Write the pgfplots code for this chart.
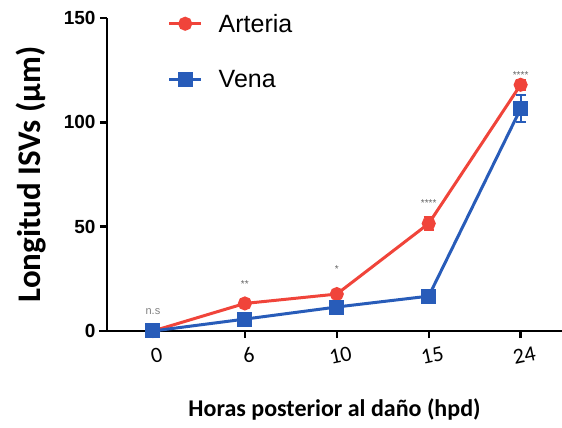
\documentclass[border=0pt]{standalone}
\usepackage{pgfplots}
\pgfplotsset{compat=1.18}
\usepackage{fontspec}
\setmainfont{Liberation Sans}
\newfontfamily\carlito{Carlito}
\definecolor{artred}{RGB}{240,68,58}
\definecolor{venblue}{RGB}{40,92,185}
\begin{document}
\begin{tikzpicture}
\useasboundingbox (0,0) rectangle (562pt,428pt);
\begin{axis}[
  at={(107pt,97pt)}, anchor=south west,
  scale only axis, width=455pt, height=313pt,
  xmin=-0.5, xmax=4.45, ymin=0, ymax=150,
  axis lines=left,
  axis line style={line width=2.6pt, -},
  x axis line style={shorten <=-8pt},
  xtick={0,1,2,3,4}, xticklabels={0,6,10,15,24},
  ytick={0,50,100,150},
  tick style={line width=2.4pt, black},
  tick align=outside, major tick length=7pt,
  /pgf/number format/assume math mode=true,
  yticklabel style={font=\fontsize{19}{21}\selectfont\bfseries, xshift=-1pt},
  xticklabel style={font=\carlito\fontsize{22}{24}\selectfont, rotate=12, anchor=north, yshift=-7pt},
  xlabel={\carlito\bfseries Horas posterior al daño (hpd)},
  xlabel style={font=\fontsize{24}{26}\selectfont, at={(axis description cs:0.5,-0.252)}, anchor=center},
  ylabel={\carlito\bfseries Longitud ISVs (µm)},
  ylabel style={font=\fontsize{33}{35}\selectfont, at={(axis description cs:-0.167,0.5)}, anchor=center},
  clip=false,
  legend style={draw=none, fill=none, at={(rel axis cs:0.133,1.02)}, anchor=north west,
    font=\fontsize{25}{27}\selectfont, row sep=33pt, inner sep=0pt},
  legend cell align=left,
  legend image code/.code={\draw[mark repeat=2,mark phase=2] plot coordinates {(0pt,0pt) (16pt,0pt) (32pt,0pt)};},
]
\addplot[artred, line width=3pt, mark=*, mark size=5.5pt,
  error bars/.cd, y dir=both, y explicit, error bar style={line width=2pt}, error mark options={rotate=90, mark size=5pt, line width=2pt}]
  coordinates {(0,0) +- (0,1) (1,13.2) +- (0,1.2) (2,17.7) +- (0,1.5) (3,51.5) +- (0,3.2) (4,118) +- (0,2.5)};
\addlegendentry{\hspace{14pt}Arteria}
\addplot[venblue, line width=3pt, mark=square*, mark size=6pt,
  error bars/.cd, y dir=both, y explicit, error bar style={line width=2pt}, error mark options={rotate=90, mark size=5pt, line width=2pt}]
  coordinates {(0,0) +- (0,1) (1,5.7) +- (0,1) (2,11.5) +- (0,1.5) (3,16.7) +- (0,2.5) (4,106.5) +- (0,6.5)};
\addlegendentry{\hspace{14pt}Vena}
\node[gray, font=\fontsize{11}{12}\selectfont] at (axis cs:0,9.5) {n.s};
\node[gray!80!black, font=\fontsize{10}{11}\selectfont] at (axis cs:1,22.5) {**};
\node[gray!80!black, font=\fontsize{10}{11}\selectfont] at (axis cs:2,29.5) {*};
\node[gray!80!black, font=\fontsize{10}{11}\selectfont] at (axis cs:3,61.5) {****};
\node[gray!80!black, font=\fontsize{10}{11}\selectfont] at (axis cs:4,122.5) {****};
\end{axis}
\end{tikzpicture}
\end{document}
